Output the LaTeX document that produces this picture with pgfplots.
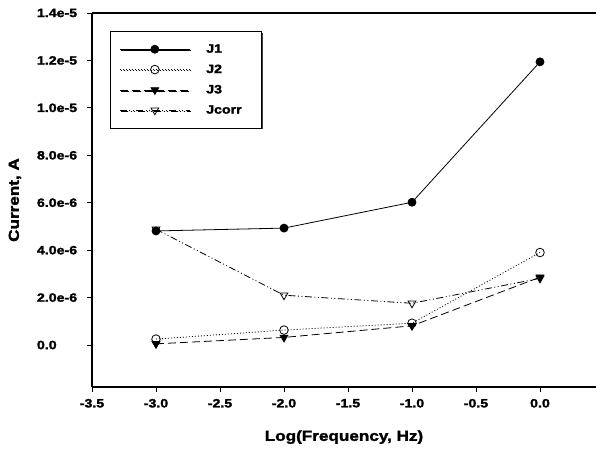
\documentclass[border=0pt]{standalone}
\usepackage{pgfplots}
\pgfplotsset{compat=1.18}
\usepackage{fontspec}
\setmainfont{Liberation Sans}
\newfontface\heavy{Liberation Sans Bold}[FakeStretch=1.18, FakeBold=2]
\usetikzlibrary{shadows}
\newcommand{\tickfont}{\fontsize{12bp}{14bp}\selectfont\heavy}
\newcommand{\tl}[1]{\mbox{\tickfont #1}}
\begin{document}
\begin{tikzpicture}
\begin{axis}[
  name=ax,
  scale only axis, width=504bp, height=374bp,
  xmin=-3.5, xmax=0.4375, ymin=-1.77e-6, ymax=1.4e-5,
  clip=false,
  axis lines=left, axis line style={-, line width=1.1bp},
  tick align=outside, major tick length=4.5bp, tick style={line width=0.9bp, black},
  xtick={-3.5,-3,-2.5,-2,-1.5,-1,-0.5,0},
  xticklabels={\tl{-3.5},\tl{-3.0},\tl{-2.5},\tl{-2.0},\tl{-1.5},\tl{-1.0},\tl{-0.5},\tl{0.0}},
  ytick={0,2e-6,4e-6,6e-6,8e-6,1e-5,1.2e-5,1.4e-5},
  yticklabels={\tl{0.0},\tl{2.0e-6},\tl{4.0e-6},\tl{6.0e-6},\tl{8.0e-6},\tl{1.0e-5},\tl{1.2e-5},\tl{1.4e-5}},
  scaled y ticks=false, scaled x ticks=false,
  xticklabel style={yshift=-4bp},
  yticklabel style={xshift=-3bp, text width=44bp, align=left},
  xlabel={Log(Frequency, Hz)},
  ylabel={Current, A},
  label style={font=\fontsize{14.5bp}{17bp}\selectfont\heavy},
  xlabel style={at={(axis description cs:0.5,-0.134)}, anchor=center},
  ylabel style={at={(axis description cs:-0.153,0.5)}, anchor=center},
  legend style={at={(axis description cs:0.0357,0.952)}, anchor=north west,
    draw=black, line width=0.9bp, fill=white,
    general shadow={shadow xshift=1.3bp, shadow yshift=-1.3bp, fill=black!75},
    font=\tickfont,
    inner xsep=9bp, inner ysep=11bp, row sep=6.5bp,
    /tikz/every odd column/.append style={column sep=14bp}},
  legend cell align=left,
  legend image code/.code={\draw[mark repeat=2,mark phase=2,#1] plot coordinates {(0bp,0bp) (35bp,0bp) (70bp,0bp)};},
  every axis plot/.append style={line width=0.8bp, black},
]
\addplot[solid, mark=*, mark size=4bp, mark options={solid, fill=black}] coordinates {(-3,4.81e-6) (-2,4.93e-6) (-1,6.02e-6) (0,11.94e-6)};
\addlegendentry{\tl{J1}}
\addplot[dash pattern=on 1bp off 2bp, mark=o, mark size=4.3bp, mark options={solid, fill=white, line width=0.8bp}] coordinates {(-3,0.25e-6) (-2,0.63e-6) (-1,0.92e-6) (0,3.9e-6)};
\addlegendentry{\tl{J2}}
\addplot[dash pattern=on 8bp off 4bp, mark=triangle*, mark size=4.5bp, mark options={solid, fill=black, rotate=180}] coordinates {(-3,0.05e-6) (-2,0.32e-6) (-1,0.81e-6) (0,2.86e-6)};
\addlegendentry{\tl{J3}}
\addplot[dash pattern=on 7bp off 2.5bp on 1bp off 2.5bp on 1bp off 2.5bp, mark=triangle, mark size=4.5bp, mark options={solid, fill=white, rotate=180, line width=0.8bp}] coordinates {(-3,4.88e-6) (-2,2.1e-6) (-1,1.76e-6) (0,2.81e-6)};
\addlegendentry{\tl{Jcorr}\hspace*{9bp}}
\draw[line width=1.1bp] (rel axis cs:0,1) -- (rel axis cs:1,1);
\end{axis}
\pgfresetboundingbox
\path ([shift={(-92bp,-69bp)}]ax.south west) rectangle ([shift={(0bp,13bp)}]ax.north east);
\end{tikzpicture}
\end{document}
